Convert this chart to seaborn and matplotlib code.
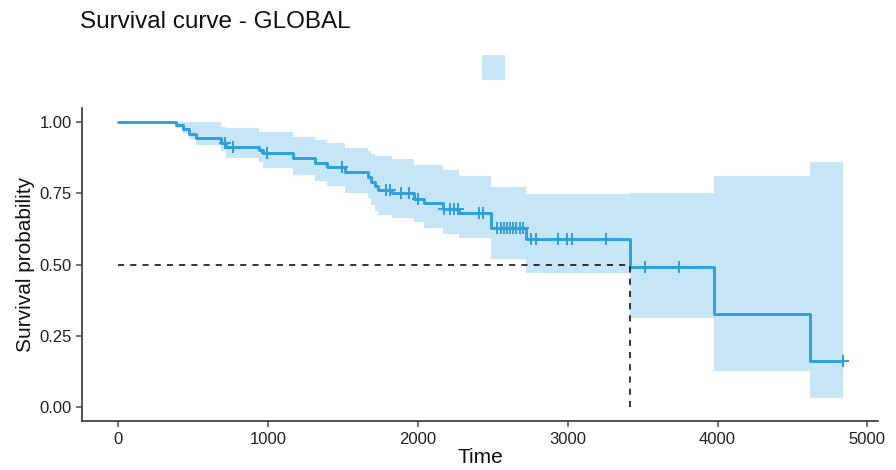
import numpy as np
import pandas as pd
import matplotlib
matplotlib.use("Agg")
import matplotlib.pyplot as plt
from matplotlib.patches import Rectangle
import seaborn as sns

# Kaplan-Meier estimate: event times, survival and 95% confidence limits
event_times = [0, 386, 433, 473, 519, 686, 719, 939, 965, 1165, 1312, 1391, 1511,
               1667, 1689, 1711, 1733, 1826, 1977, 2044, 2166, 2277, 2488, 2725,
               3415, 3976, 4620]
surv = [1.0, 0.99, 0.975, 0.96, 0.944, 0.928, 0.914, 0.902, 0.891, 0.874, 0.857,
        0.842, 0.826, 0.808, 0.79, 0.775, 0.761, 0.75, 0.732, 0.715, 0.697, 0.682,
        0.63, 0.59, 0.49, 0.327, 0.163]
lower = [1.0, 0.98, 0.962, 0.943, 0.919, 0.9, 0.873, 0.86, 0.84, 0.814, 0.795,
         0.775, 0.75, 0.735, 0.71, 0.69, 0.674, 0.665, 0.65, 0.627, 0.609, 0.595,
         0.52, 0.469, 0.313, 0.125, 0.03]
upper = [1.0, 1.0, 1.0, 1.0, 1.0, 0.985, 0.981, 0.966, 0.966, 0.948, 0.937, 0.926,
         0.91, 0.9, 0.89, 0.88, 0.88, 0.87, 0.849, 0.849, 0.832, 0.81, 0.771, 0.747,
         0.75, 0.81, 0.86]
last_time = 4840

# censored observations
censor_times = [712, 766, 990, 1491, 1789, 1811, 1889, 1939, 2000, 2177, 2215, 2244,
                2266, 2410, 2437, 2530, 2555, 2575, 2595, 2615, 2635, 2655, 2680,
                2705, 2754, 2788, 2938, 2998, 3031, 3257, 3513, 3746, 4840]

median_time = 3415
x_ticks = [0, 1000, 2000, 3000, 4000, 5000]
y_ticks = [0.0, 0.25, 0.5, 0.75, 1.0]
y_ticklabels = ["0.00", "0.25", "0.50", "0.75", "1.00"]

line_color = "#2E9FDF"

sns.set_theme(style="ticks")
plt.rcParams["font.family"] = ["Liberation Sans", "DejaVu Sans"]

curve = pd.DataFrame({
    "time": event_times + [last_time],
    "surv": surv + [surv[-1]],
    "lower": lower + [lower[-1]],
    "upper": upper + [upper[-1]],
})

# survival value at each censor time (step lookup)
idx = np.searchsorted(np.array(event_times), np.array(censor_times), side="right") - 1
censored = pd.DataFrame({"time": censor_times, "surv": np.array(surv)[idx]})

fig = plt.figure(figsize=(8.96, 4.70), dpi=100)
ax = fig.add_axes([0.0915, 0.104, 0.8885, 0.666])

ax.fill_between(curve["time"], curve["lower"], curve["upper"], step="post",
                color=line_color, alpha=0.27, linewidth=0)
sns.lineplot(data=curve, x="time", y="surv", drawstyle="steps-post",
             color=line_color, linewidth=2.1, ax=ax, estimator=None, sort=False)
sns.scatterplot(data=censored, x="time", y="surv", marker="+", s=75,
                color=line_color, linewidth=1.4, ax=ax, zorder=4)

# median survival reference lines
ax.plot([0, median_time], [0.5, 0.5], color="black", linestyle=(0, (4, 4)), lw=1.1, zorder=5)
ax.plot([median_time, median_time], [0, 0.5], color="black", linestyle=(0, (4, 4)), lw=1.1, zorder=5)

ax.set_xlim(-241.5, 5071.5)
ax.set_ylim(-0.05, 1.05)
ax.set_xticks(x_ticks)
ax.set_yticks(y_ticks)
ax.set_yticklabels(y_ticklabels)
ax.tick_params(labelsize=12, colors="#4d4d4d", labelcolor="#222222", length=4, width=1.1)
ax.set_xlabel("Time", fontsize=15, color="#111111", labelpad=1)
ax.set_ylabel("Survival probability", fontsize=15, color="#111111", labelpad=3)
for side in ("top", "right"):
    ax.spines[side].set_visible(False)
for side in ("left", "bottom"):
    ax.spines[side].set_linewidth(1.2)
    ax.spines[side].set_color("#333333")

fig.text(0.0893, 0.953, "Survival curve - GLOBAL", fontsize=17.5, color="#111111",
         ha="left", va="center")

# legend key for the single stratum
fig.add_artist(Rectangle((482 / 896, 1 - 80 / 470), 23 / 896, 25 / 470,
                         transform=fig.transFigure, facecolor=line_color,
                         alpha=0.27, edgecolor="none"))

fig.savefig("out.png", dpi=100)
